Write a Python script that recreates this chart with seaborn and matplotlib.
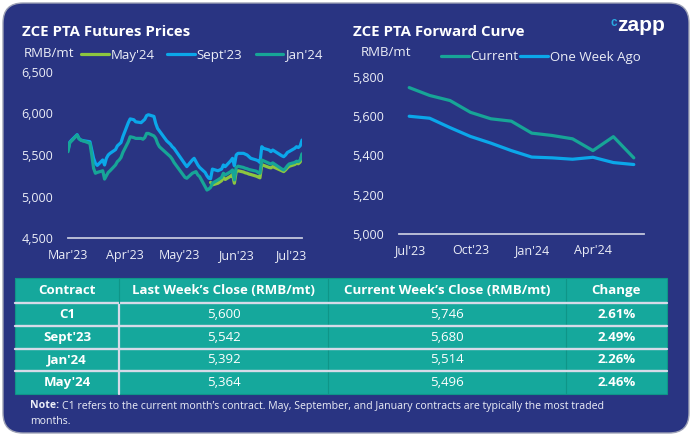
import numpy as np
import pandas as pd
import matplotlib
matplotlib.use("Agg")
import matplotlib.pyplot as plt
import matplotlib.dates as mdates
from matplotlib.ticker import FuncFormatter
from matplotlib.patches import FancyBboxPatch, Rectangle
import seaborn as sns

sns.set_style("white")
plt.rcParams['font.family'] = ['Open Sans', 'DejaVu Sans']

NAVY = "#293482"
BLUE = "#0ba7ea"
TEAL = "#17a597"
GREEN = "#8dc63f"
TABLE = "#15a89c"
TXT = "#eceef7"
AXC = "#c3c7dc"

# ---------------- data ----------------
holidays = ["2023-04-05", "2023-05-01", "2023-05-02", "2023-05-03",
            "2023-06-22", "2023-06-23"]
dates = pd.bdate_range("2023-03-01", "2023-07-07")
dates = dates[~dates.isin(pd.to_datetime(holidays))]

sept23 = [5560, 5655, 5680, 5745, 5700, 5680, 5675, 5670, 5660, 5560, 5460, 5400, 5375,
          5440, 5380, 5460, 5500, 5520, 5565, 5610, 5630, 5650, 5720,
          5890, 5935, 5925, 5900, 5890, 5910, 5930, 5975, 5985, 5965, 5880, 5820, 5790,
          5760, 5670, 5650, 5630, 5600, 5580,
          5390, 5360, 5440, 5460, 5420, 5380, 5350, 5290, 5250, 5220, 5215, 5330, 5310,
          5320, 5330, 5380, 5360, 5430, 5460, 5370,
          5500, 5520, 5520, 5510, 5500, 5480, 5460, 5440, 5430, 5410, 5600, 5580, 5560,
          5540, 5560, 5490, 5480, 5500, 5530, 5542,
          5580, 5600, 5590, 5610, 5680]
jan24 = [5540, 5650, 5670, 5740, 5695, 5680, 5670, 5665, 5640, 5500, 5340, 5280, 5290,
         5310, 5210, 5250, 5290, 5310, 5380, 5420, 5440, 5470, 5530,
         5660, 5720, 5710, 5700, 5700, 5690, 5710, 5760, 5760, 5730, 5700, 5640, 5600,
         5580, 5520, 5500, 5480, 5450, 5410,
         5230, 5220, 5280, 5290, 5300, 5260, 5240, 5120, 5078, 5090, 5110, 5160, 5200,
         5215, 5230, 5280, 5260, 5300, 5320, 5200,
         5350, 5365, 5350, 5340, 5335, 5325, 5320, 5305, 5290, 5280, 5440, 5430, 5400,
         5392, 5405, 5330, 5320, 5340, 5370, 5392,
         5410, 5425, 5420, 5440, 5514]
may24 = [np.nan] * 52 + [
         5170, 5140, 5160, 5175, 5190, 5230, 5205, 5245, 5265, 5160,
         5300, 5310, 5295, 5285, 5280, 5270, 5265, 5245, 5235, 5225, 5385, 5375, 5350,
         5345, 5360, 5310, 5300, 5320, 5345, 5364,
         5385, 5400, 5395, 5415, 5496]
fut_names = ["May'24", "Sept'23", "Jan'24"]

fwd_months = ["Jul'23", "Aug'23", "Sep'23", "Oct'23", "Nov'23", "Dec'23",
              "Jan'24", "Feb'24", "Mar'24", "Apr'24", "May'24", "Jun'24"]
fwd_current = [5746, 5706, 5680, 5620, 5587, 5575, 5514, 5502, 5485, 5425, 5496, 5388]
fwd_week_ago = [5600, 5590, 5542, 5497, 5463, 5425, 5392, 5388, 5381, 5391, 5364, 5354]
fwd_names = ["Current", "One Week Ago"]

tbl_contracts = ["C1", "Sept'23", "Jan'24", "May'24"]
tbl_last = [5600, 5542, 5392, 5364]
tbl_current = [5746, 5680, 5514, 5496]
tbl_change = ["2.61%", "2.49%", "2.26%", "2.46%"]
tbl_headers = ["Contract", "Last Week\u2019s Close (RMB/mt)",
               "Current Week\u2019s Close (RMB/mt)", "Change"]

# ---------------- figure ----------------
W, H = 693, 437
fig = plt.figure(figsize=(W / 100, H / 100), dpi=100)
fig.patch.set_facecolor("white")

def fx(px):
    return px / W

def fy(py):
    return 1 - py / H

bg = fig.add_axes([0, 0, 1, 1])
bg.set_xlim(0, W)
bg.set_ylim(H, 0)
bg.axis("off")
bg.add_patch(FancyBboxPatch((3, 3), W - 7, H - 7,
                            boxstyle="round,pad=0,rounding_size=20",
                            fc=NAVY, ec="#9ea2b6", lw=1.0))

TICK_FS = 9.0
LEG_FS = 9.5

def style_axis(ax):
    ax.set_facecolor("none")
    for s in ["top", "right", "left"]:
        ax.spines[s].set_visible(False)
    ax.spines["bottom"].set_color(AXC)
    ax.spines["bottom"].set_linewidth(1.3)
    ax.set_xlabel("")
    ax.set_ylabel("")
    ax.tick_params(axis="y", length=0, pad=10.5, labelsize=TICK_FS, labelcolor=TXT)
    ax.tick_params(axis="x", labelsize=TICK_FS, labelcolor=TXT, color=AXC,
                   direction="out", width=1.2)
    ax.yaxis.set_major_formatter(FuncFormatter(lambda v, p: f"{v:,.0f}"))

# ---- left: futures ----
fut_df = pd.DataFrame({"date": np.tile(dates, 3),
                       "price": may24 + sept23 + jan24,
                       "contract": np.repeat(["May'24", "Sept'23", "Jan'24"], len(dates))})
fut_df = fut_df.dropna()
ax1 = fig.add_axes([fx(68), fy(238), fx(302) - fx(68), fy(72) - fy(238)])
sns.lineplot(data=fut_df, x="date", y="price", hue="contract", hue_order=fut_names,
             palette=[GREEN, BLUE, TEAL], linewidth=2.3, estimator=None, ax=ax1)
ax1.set_xlim(pd.Timestamp("2023-03-01"), pd.Timestamp("2023-07-07"))
ax1.set_ylim(4500, 6500)
ax1.set_yticks([4500, 5000, 5500, 6000, 6500])
ax1.xaxis.set_major_locator(mdates.MonthLocator())
ax1.xaxis.set_major_formatter(mdates.DateFormatter("%b'%y"))
style_axis(ax1)
ax1.tick_params(axis="x", length=3.6, pad=4.5)
sns.move_legend(ax1, "center left", bbox_to_anchor=(fx(81), fy(55)),
                bbox_transform=fig.transFigure, ncol=3, frameon=False, title=None,
                fontsize=LEG_FS, handlelength=2.1, handletextpad=0.12,
                columnspacing=1.0, borderpad=0, borderaxespad=0)
for t in ax1.get_legend().get_texts():
    t.set_color(TXT)
for l in ax1.get_legend().get_lines():
    l.set_linewidth(2.3)

# ---- right: forward curve ----
fwd_df = pd.DataFrame({"month": fwd_months * 2,
                       "price": fwd_current + fwd_week_ago,
                       "series": np.repeat(fwd_names, len(fwd_months))})
ax2 = fig.add_axes([fx(399), fy(234), fx(644) - fx(399), fy(77) - fy(234)])
sns.lineplot(data=fwd_df, x="month", y="price", hue="series", hue_order=fwd_names,
             palette=[TEAL, BLUE], linewidth=2.3, estimator=None, sort=False, ax=ax2)
ax2.set_xlim(-0.5, 11.5)
ax2.set_ylim(5000, 5800)
ax2.set_yticks([5000, 5200, 5400, 5600, 5800])
ax2.set_xticks([0, 3, 6, 9])
ax2.set_xticklabels(fwd_months[::3])
ax2.set_xticks([-0.5, 2.5, 5.5, 8.5, 11.5], minor=True)
style_axis(ax2)
ax2.tick_params(axis="x", which="major", length=0, pad=7.5)
ax2.tick_params(axis="x", which="minor", length=3.6, width=1.2, color=AXC)
sns.move_legend(ax2, "center left", bbox_to_anchor=(fx(441), fy(57)),
                bbox_transform=fig.transFigure, ncol=2, frameon=False, title=None,
                fontsize=LEG_FS, handlelength=2.1, handletextpad=0.12,
                columnspacing=0.15, borderpad=0, borderaxespad=0)
for t in ax2.get_legend().get_texts():
    t.set_color(TXT)
for l in ax2.get_legend().get_lines():
    l.set_linewidth(2.3)

# ---- titles / labels ----
fig.text(fx(22), fy(32), "ZCE PTA Futures Prices", color="white", fontsize=10.8,
         fontweight="bold", va="center", ha="left")
fig.text(fx(353), fy(32), "ZCE PTA Forward Curve", color="white", fontsize=10.8,
         fontweight="bold", va="center", ha="left")
fig.text(fx(24), fy(53.5), "RMB/mt", color=TXT, fontsize=LEG_FS, va="center", ha="left")
fig.text(fx(361), fy(53), "RMB/mt", color=TXT, fontsize=LEG_FS, va="center", ha="left")
fig.text(fx(610.5), fy(26.5), "c", color="#2aaae2", fontsize=8.5, fontweight="bold",
         va="baseline", ha="left", family=["Liberation Sans", "DejaVu Sans"])
fig.text(fx(617), fy(31), "zapp", color="white", fontsize=15, fontweight="bold",
         va="baseline", ha="left", family=["Liberation Sans", "DejaVu Sans"])

# ---- table ----
ax3 = fig.add_axes([fx(15), fy(394), fx(667) - fx(15), fy(278) - fy(394)])
ax3.axis("off")
col_px = np.array([104, 209, 238, 101])
col_w = col_px / col_px.sum()
cell_text = [[c, f"{a:,}", f"{b:,}", ch] for c, a, b, ch in
             zip(tbl_contracts, tbl_last, tbl_current, tbl_change)]
tbl = ax3.table(cellText=cell_text, colLabels=tbl_headers, colWidths=list(col_w),
                cellLoc="center", bbox=[0, 0, 1, 1])
tbl.auto_set_font_size(False)
tbl.set_fontsize(9.5)
for (r, c), cell in tbl.get_celld().items():
    cell.set_facecolor(TABLE)
    cell.set_edgecolor(TABLE)
    cell.set_linewidth(0)
    cell.set_height(25 if r == 0 else 22.75)
    txt = cell.get_text()
    txt.set_color("white")
    if r == 0 or c in (0, 3):
        txt.set_fontweight("bold")

row_edges = [0, 25, 47.75, 70.5, 93.25, 116]
for yb in row_edges[1:-1]:
    yy = 1 - yb / 116
    ax3.plot([0, 1], [yy, yy], transform=ax3.transAxes, color="#d6dae8",
             lw=1.7, clip_on=False, zorder=5)
cum = np.cumsum(col_w)
hy = 1 - 25 / 116
ax3.plot([cum[0], cum[0]], [0, hy], transform=ax3.transAxes, color="#d6dae8",
         lw=1.6, clip_on=False, zorder=5)
ax3.plot([cum[0], cum[0]], [hy, 1], transform=ax3.transAxes, color="#0f9588",
         lw=0.8, clip_on=False, zorder=5)
for xv in cum[1:3]:
    ax3.plot([xv, xv], [0, 1], transform=ax3.transAxes, color="#0f9588",
             lw=0.8, clip_on=False, zorder=4)
ax3.add_patch(Rectangle((0, 0), 1, 1, transform=ax3.transAxes, fill=False,
                        ec="#0f9588", lw=0.8, clip_on=False, zorder=4))

# ---- note ----
note_fs = 7.6
n1 = fig.text(fx(30), fy(406), "Note:", color=TXT, fontsize=note_fs,
              fontweight="bold", va="center", ha="left")
fig.canvas.draw()
ext = n1.get_window_extent(fig.canvas.get_renderer())
fig.text((ext.x1 + 3) / W, fy(406),
         "C1 refers to the current month\u2019s contract. May, September, and January "
         "contracts are typically the most traded",
         color=TXT, fontsize=note_fs, va="center", ha="left")
fig.text(fx(30), fy(421), "months.", color=TXT, fontsize=note_fs, va="center", ha="left")

fig.savefig("out.png", dpi=100, facecolor=fig.get_facecolor())
